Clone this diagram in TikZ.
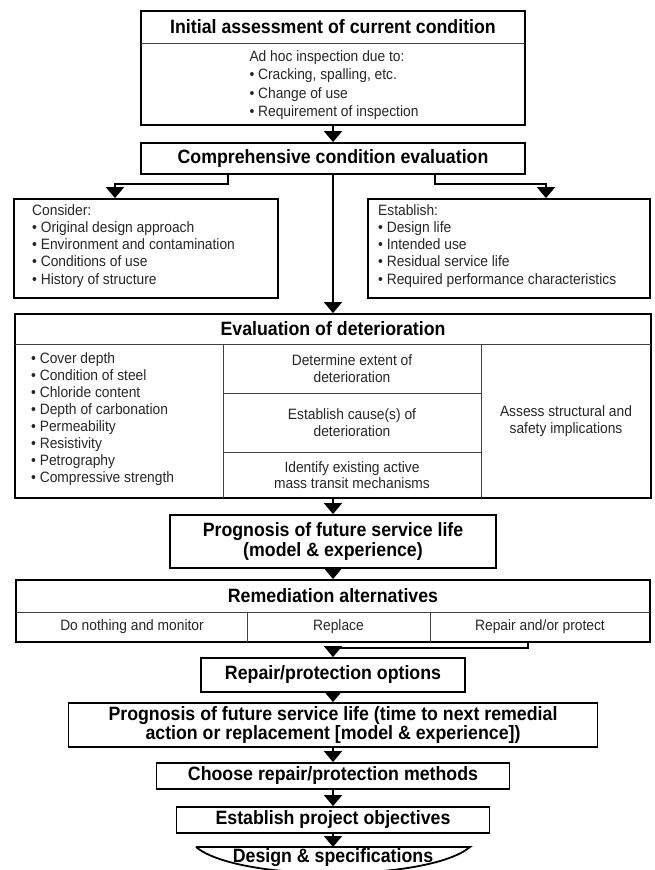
\documentclass[tikz,border=0pt]{standalone}
\usepackage{fontspec}
\setmainfont{Liberation Sans}[FakeStretch=0.92]
\usetikzlibrary{arrows.meta}

\tikzset{
  boxframe/.style={draw, line width=1.8pt, inner sep=0pt},
  divline/.style={draw=black!75, line width=0.9pt},
  headtext/.style={font=\fontsize{19.3}{20}\selectfont\bfseries, align=center},
  bodytext/.style={font=\fontsize{15}{17.3}\selectfont, text=black!85, align=left, inner sep=0pt},
  celltext/.style={font=\fontsize{15}{16.5}\selectfont, text=black!85, align=center, inner sep=0pt},
  flowarrow/.style={line width=1.6pt, -{Triangle[width=18pt,length=11pt]}}
}

\begin{document}
\begin{tikzpicture}[x=1pt,y=-1pt]
\useasboundingbox (0,0) rectangle (655,870);
% first look
\node[boxframe, minimum width=384pt, minimum height=114pt] (assess) at (333,68) {};
\draw[divline] (141,43) -- (525,43);
\node[headtext] (assesshead) at (333,27) {Initial assessment of current condition};
\node[bodytext, font=\fontsize{15}{18.5}\selectfont] (assessbody) at (334,85)
  {Ad hoc inspection due to:\\• Cracking, spalling, etc.\\• Change of use\\• Requirement of inspection};
\node[boxframe, headtext, minimum width=384pt, minimum height=31pt] (comp) at (333,158.5) {Comprehensive condition evaluation};
\draw[flowarrow] (assess.south) -- (comp.north);
% side boxes
\node[boxframe, minimum width=264pt, minimum height=99pt] (consider) at (146,248.5) {};
\node[bodytext, anchor=north west] (considertext) at (32,204)
  {Consider:\\• Original design approach\\• Environment and contamination\\• Conditions of use\\• History of structure};
\node[boxframe, minimum width=282pt, minimum height=99pt] (establish) at (509,248.5) {};
\node[bodytext, anchor=north west] (establishtext) at (378,204)
  {Establish:\\• Design life\\• Intended use\\• Residual service life\\• Required performance characteristics};
\draw[flowarrow] ([xshift=-105pt]comp.south) -- ++(0,9) -| ([xshift=-31pt]consider.north);
\draw[flowarrow] ([xshift=102pt]comp.south) -- ++(0,9) -| ([xshift=37pt]establish.north);
% deterioration table
\node[boxframe, minimum width=636pt, minimum height=184pt] (evalbox) at (333,406) {};
\draw[flowarrow] (comp.south) -- (evalbox.north);
\draw[divline] (15,344) -- (651,344) (223,344) -- (223,498) (481,344) -- (481,498)
  (223,393) -- (481,393) (223,452) -- (481,452);
\node[headtext] (evalhead) at (333,329) {Evaluation of deterioration};
\node[bodytext, font=\fontsize{15}{17}\selectfont, anchor=north west] (evaltests) at (31,352)
  {• Cover depth\\• Condition of steel\\• Chloride content\\• Depth of carbonation\\• Permeability\\• Resistivity\\• Petrography\\• Compressive strength};
\node[celltext] (extent) at (352,368.5) {Determine extent of\\deterioration};
\node[celltext] (cause) at (352,422.5) {Establish cause(s) of\\deterioration};
\node[celltext] (transit) at (352,475) {Identify existing active\\mass transit mechanisms};
\node[celltext] (safety) at (566,421) {Assess structural and\\safety implications};
% prognosis
\node[boxframe, headtext, minimum width=326pt, minimum height=53pt] (prognosis) at (333,541.5)
  {Prognosis of future service life\\(model \& experience)};
\draw[flowarrow] (evalbox.south) -- (prognosis.north);
% alternatives
\node[boxframe, minimum width=634pt, minimum height=62pt] (remedy) at (333,611) {};
\draw[flowarrow] (prognosis.south) -- (remedy.north);
\draw[divline] (16,612) -- (650,612) (247,612) -- (247,642) (430,612) -- (430,642);
\node[headtext] (remedyhead) at (333,596) {Remediation alternatives};
\node[celltext] (nothing) at (132,627) {Do nothing and monitor};
\node[celltext] (replace) at (338.5,627) {Replace};
\node[celltext] (repair) at (540,627) {Repair and/or protect};
% repair route
\node[boxframe, headtext, minimum width=264pt, minimum height=34pt] (options) at (333,675) {Repair/protection options};
\draw[flowarrow] ([xshift=195pt]remedy.south) -- ++(0,5) -| (options.north);
\node[boxframe, headtext, font=\fontsize{19.3}{18.5}\selectfont\bfseries, minimum width=529pt, minimum height=44pt] (nextlife) at (333,725)
  {Prognosis of future service life (time to next remedial\\action or replacement [model \& experience])};
\draw[flowarrow] (options.south) -- (nextlife.north);
\node[boxframe, headtext, minimum width=353pt, minimum height=26pt] (choose) at (333,776) {Choose repair/protection methods};
\draw[flowarrow] (nextlife.south) -- (choose.north);
\node[boxframe, headtext, minimum width=313pt, minimum height=26pt] (objectives) at (333,820) {Establish project objectives};
\draw[flowarrow] (choose.south) -- (objectives.north);
% last step
\coordinate (designleft) at (196,847);
\coordinate (designright) at (470,847);
\draw[boxframe] (designleft) -- (designright) .. controls (428,882) and (238,882) .. (designleft);
\node[headtext] (design) at (333,858) {Design \& specifications};
\draw[flowarrow] (objectives.south) -- (objectives.south |- designleft);
\end{tikzpicture}
\end{document}
